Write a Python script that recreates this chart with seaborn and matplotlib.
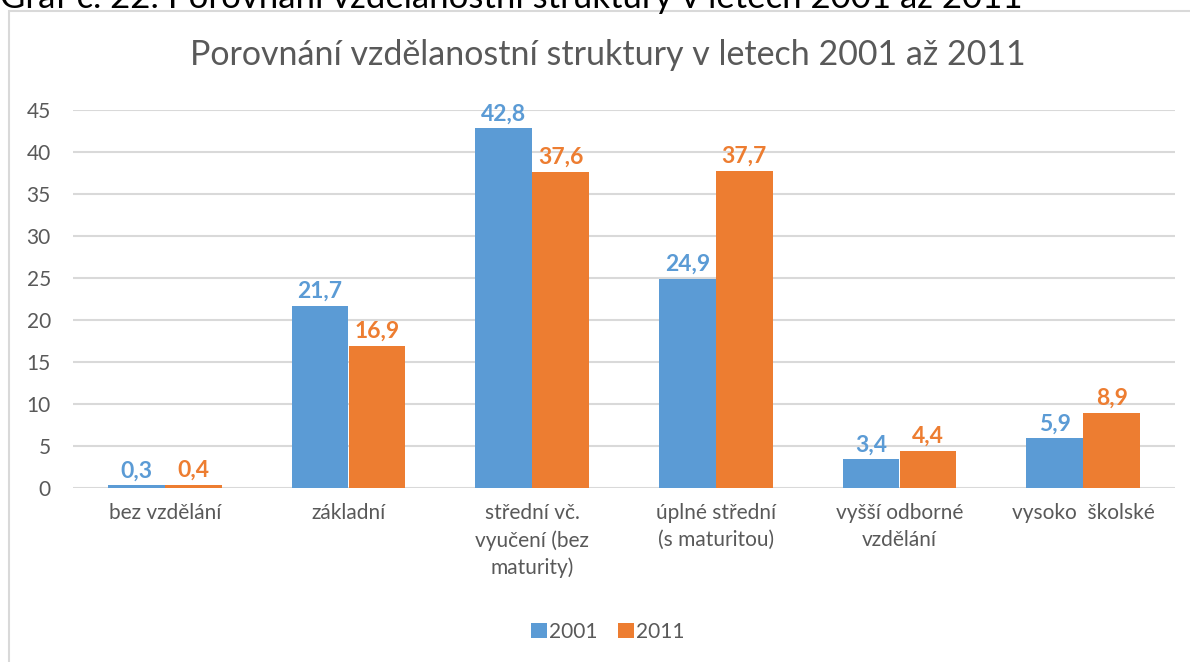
import pandas as pd
import matplotlib.pyplot as plt
import seaborn as sns
from matplotlib.patches import Rectangle

# data
kategorie = ['bez vzdělání', 'základní', 'střední vč.\nvyučení (bez\nmaturity)',
             'úplné střední\n(s maturitou)', 'vyšší odborné\nvzdělání', 'vysoko  školské']
hodnoty_2001 = [0.3, 21.7, 42.8, 24.9, 3.4, 5.9]
hodnoty_2011 = [0.4, 16.9, 37.6, 37.7, 4.4, 8.9]
roky = ['2001', '2011']

df = pd.DataFrame({
    'kategorie': kategorie * 2,
    'hodnota': hodnoty_2001 + hodnoty_2011,
    'rok': [roky[0]] * len(kategorie) + [roky[1]] * len(kategorie),
})

sns.set_style('white')
plt.rcParams['font.family'] = ['Lato', 'DejaVu Sans']

barvy = ['#5B9BD5', '#ED7D31']
sedy = '#595959'

fig = plt.figure(figsize=(11.9, 6.62), dpi=100)
ax = fig.add_axes([73 / 1190, 1 - 488 / 662, (1175 - 73) / 1190, (488 - 110) / 662])

sns.barplot(data=df, x='kategorie', y='hodnota', hue='rok', palette=barvy,
            width=0.62, saturation=1, linewidth=0, ax=ax, legend=True)

for cont, c in zip(ax.containers, barvy):
    ax.bar_label(cont, labels=[f'{v:.1f}'.replace('.', ',') for v in cont.datavalues],
                 color=c, fontsize=16.5, fontweight='bold', padding=3)

ax.set_ylim(0, 45)
ax.set_yticks(range(0, 46, 5))
ax.yaxis.grid(True, color='#D9D9D9', linewidth=1.5)
ax.set_axisbelow(True)
for s in ax.spines.values():
    s.set_visible(False)
ax.set_xlabel('')
ax.set_ylabel('')
ax.tick_params(axis='both', length=0, labelsize=15, colors=sedy)
ax.tick_params(axis='x', pad=11)
ax.tick_params(axis='y', pad=16)
for t in ax.get_xticklabels():
    t.set_linespacing(1.4)
    t.set_verticalalignment('top')

ax.legend(loc='center', bbox_to_anchor=(608 / 1190, 1 - 632 / 662), bbox_transform=fig.transFigure,
          ncol=2, frameon=False, fontsize=15, handlelength=0.75, handleheight=0.75,
          handletextpad=0.1, columnspacing=1.0, labelcolor=sedy)

fig.text(0.5 * (193 + 1022) / 1190, 1 - 55 / 662, 'Porovnání vzdělanostní struktury v letech 2001 až 2011',
         ha='center', va='center', fontsize=24.5, color=sedy)

# caption above the chart frame, cut at the top edge as in the source
fig.text(0, 1 - 8 / 662, 'Graf č. 22: Porovnání vzdělanostní struktury v letech 2001 až 2011',
         ha='left', va='baseline', fontsize=25, color='black')

fig.patches.append(Rectangle((9 / 1190, -0.05), 1.1, 1 - 11 / 662 + 0.05, transform=fig.transFigure,
                             fill=False, edgecolor='#D9D9D9', linewidth=1.5))

fig.savefig('out.png', dpi=100)
